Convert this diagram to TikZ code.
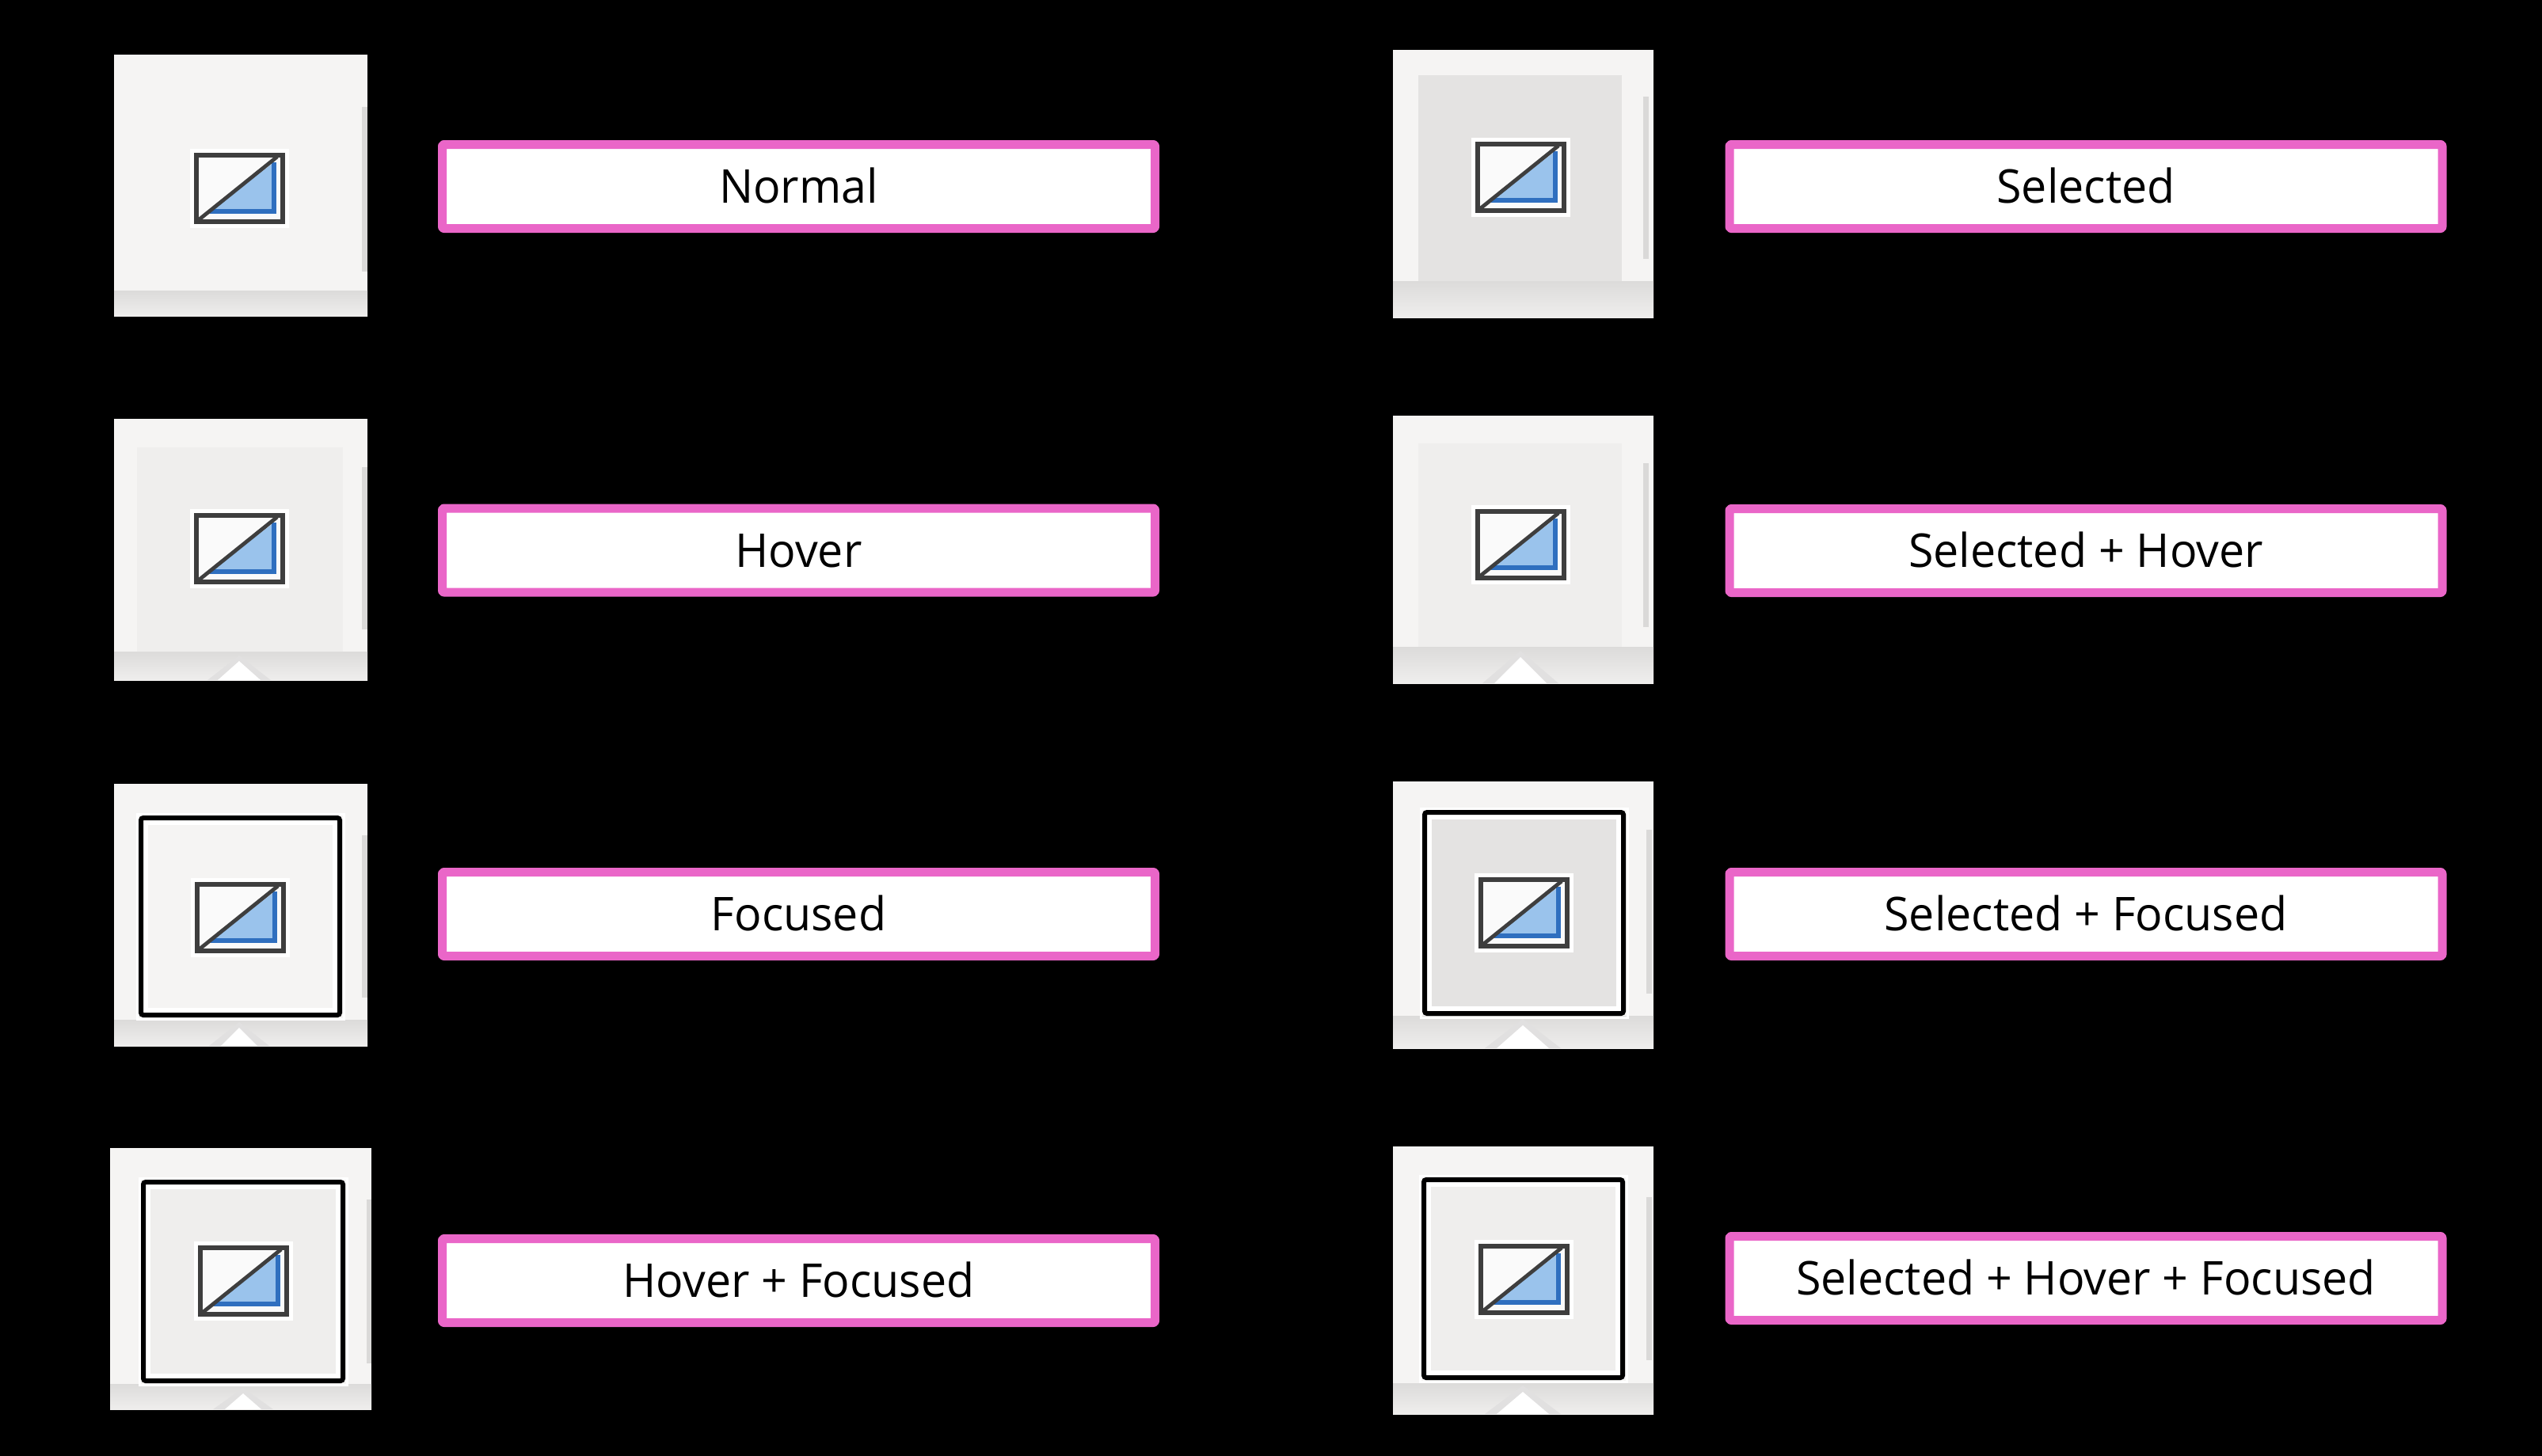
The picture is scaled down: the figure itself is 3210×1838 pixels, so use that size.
\documentclass[tikz,border=0pt]{standalone}
\usepackage{fontspec}
\setmainfont[FakeStretch=0.975]{Open Sans}
\definecolor{tilefill}{HTML}{F5F4F3}
\definecolor{hoverfill}{HTML}{EFEEED}
\definecolor{selfill}{HTML}{E4E3E2}
\definecolor{bandtop}{HTML}{DCDBDA}
\definecolor{bandlow}{HTML}{EFEEED}
\definecolor{barfill}{HTML}{DAD9D8}
\definecolor{edgepink}{HTML}{EA66C8}
\definecolor{skyfill}{HTML}{9AC3EC}
\definecolor{skyline}{HTML}{2F6FBF}
\definecolor{framegray}{HTML}{3E3E3E}
\begin{document}
\begin{tikzpicture}[x=0.5pt, y=-0.5pt,
    tile/.style={fill=tilefill},
    band/.style={top color=bandtop, bottom color=bandlow},
    bar/.style={fill=barfill},
    ring/.style={draw=black, line width=3pt, rounded corners=1.5pt},
    halo/.style={draw=white, line width=3pt},
    notch/.style={fill=white},
    notchshade/.style={fill=bandtop!85!white},
    state/.style={draw=edgepink, fill=white, line width=5.5pt, line join=round, rounded corners=1pt,
        minimum width=450pt, minimum height=53pt, inner sep=0pt,
        text height=21pt, text depth=0pt, font=\fontsize{29.4}{34}\selectfont},
    icon/.pic={
        \fill[white] (-5,-5) rectangle (120,95);
        \fill[white!98!black] (0,0) rectangle (115,90);
        \fill[skyfill] (101,12) -- (101,74) -- (20,74) -- cycle;
        \draw[skyline, line width=2.6pt] (101,12) -- (101,74) -- (20,74);
        \draw[framegray, line width=2.4pt] (3,87) -- (105,5);
        \draw[framegray, line width=3pt] (3,3) rectangle (112,87);
    }]
    \useasboundingbox (0,0) rectangle (3210,1838);
    \fill[black] (-10,-10) rectangle (3220,1848);

    % Left column
    % Normal
    \fill[tile] (144,69) rectangle (464,399);
    \path[band] (144,367) rectangle (464,399);
    \fill[bar] (457,135) rectangle (464,343);
    \pic at (245,193) {icon};
    \node[state] (normal) at (1008.5,235.5) {Normal};

    % Hover
    \fill[tile] (144,529) rectangle (464,859);
    \fill[hoverfill] (173,565) rectangle (433,823);
    \path[band] (144,823) rectangle (464,859);
    \fill[bar] (457,590) rectangle (464,795);
    \fill[notchshade] (302,828) -- (342,859) -- (262,859) -- cycle;
    \fill[notch] (302,835) -- (329,859) -- (275,859) -- cycle;
    \pic at (245,648) {icon};
    \node[state] (hover) at (1008.5,695) {Hover};

    % Focused
    \fill[tile] (144,990) rectangle (464,1321);
    \path[band] (144,1288) rectangle (464,1321);
    \fill[bar] (457,1055) rectangle (464,1260);
    \fill[notchshade] (302,1291) -- (340,1321) -- (264,1321) -- cycle;
    \fill[notch] (302,1298) -- (325,1321) -- (279,1321) -- cycle;
    \draw[white, line width=1.5pt] (173,1028) rectangle (434,1287);
    \filldraw[fill=tilefill, halo] (184,1039) rectangle (423,1276);
    \draw[ring] (178,1033) rectangle (429,1282);
    \pic at (246,1114) {icon};
    \node[state] (focused) at (1008.5,1154.5) {Focused};

    % Hover + Focused
    \fill[tile] (139,1450) rectangle (469,1780);
    \path[band] (139,1748) rectangle (469,1780);
    \fill[bar] (463,1515) rectangle (469,1722);
    \fill[notchshade] (307,1753) -- (345,1780) -- (269,1780) -- cycle;
    \fill[notch] (307,1760) -- (330,1780) -- (284,1780) -- cycle;
    \draw[white, line width=1.5pt] (176,1488) rectangle (438,1749);
    \filldraw[fill=hoverfill, halo] (187,1499) rectangle (427,1738);
    \draw[ring] (181,1493) rectangle (433,1744);
    \pic at (250,1573) {icon};
    \node[state] (hoverfocused) at (1008.5,1617.5) {Hover + Focused};

    % Right column
    % Selected
    \fill[tile] (1759,63) rectangle (2088,401);
    \fill[selfill] (1791,95) rectangle (2048,355);
    \path[band] (1759,355) rectangle (2088,401);
    \fill[bar] (2075,122) rectangle (2082,327);
    \pic at (1863,179) {icon};
    \node[state] (selected) at (2634,235.5) {Selected};

    % Selected + Hover
    \fill[tile] (1759,525) rectangle (2088,863);
    \fill[hoverfill] (1791,560) rectangle (2048,817);
    \path[band] (1759,817) rectangle (2088,863);
    \fill[bar] (2075,585) rectangle (2082,792);
    \fill[notchshade] (1920,822) -- (1968,863) -- (1872,863) -- cycle;
    \fill[notch] (1920,830) -- (1953,863) -- (1887,863) -- cycle;
    \pic at (1863,643) {icon};
    \node[state] (selectedhover) at (2634,695.5) {Selected + Hover};

    % Selected + Focused
    \fill[tile] (1759,987) rectangle (2088,1324);
    \path[band] (1759,1283) rectangle (2088,1324);
    \fill[bar] (2079,1048) rectangle (2086,1255);
    \fill[notchshade] (1923,1287) -- (1971,1324) -- (1875,1324) -- cycle;
    \fill[notch] (1923,1295) -- (1956,1324) -- (1890,1324) -- cycle;
    \draw[white, line width=1.5pt] (1794,1021) rectangle (2055,1285);
    \filldraw[fill=selfill, halo] (1805,1032) rectangle (2044,1274);
    \draw[ring] (1799,1026) rectangle (2050,1280);
    \pic at (1867,1108) {icon};
    \node[state] (selectedfocused) at (2634,1154.5) {Selected + Focused};

    % Selected + Hover + Focused
    \fill[tile] (1759,1448) rectangle (2088,1786);
    \path[band] (1759,1747) rectangle (2088,1786);
    \fill[bar] (2079,1512) rectangle (2086,1718);
    \fill[notchshade] (1923,1750) -- (1971,1786) -- (1875,1786) -- cycle;
    \fill[notch] (1923,1758) -- (1956,1786) -- (1890,1786) -- cycle;
    \draw[white, line width=1.5pt] (1793,1485) rectangle (2054,1745);
    \filldraw[fill=hoverfill, halo] (1804,1496) rectangle (2043,1734);
    \draw[ring] (1798,1490) rectangle (2049,1740);
    \pic at (1867,1571) {icon};
    \node[state] (selectedall) at (2634,1614.5) {Selected + Hover + Focused};
\end{tikzpicture}
\end{document}
